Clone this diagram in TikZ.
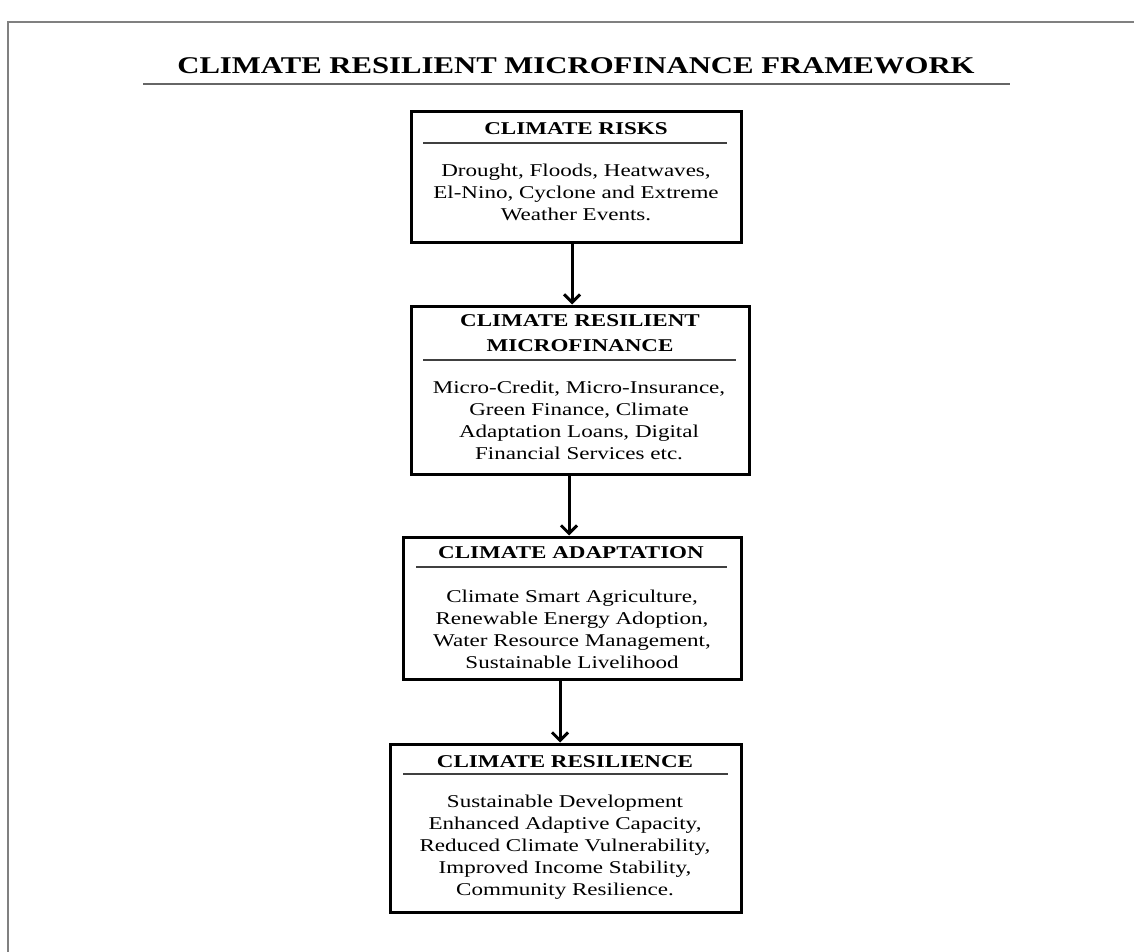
\documentclass[tikz,border=0pt]{standalone}
\usepackage{fontspec}
\setmainfont{Liberation Serif}[FakeStretch=1.28]
\usetikzlibrary{arrows.meta}
\tikzset{
  panel/.style={draw, line width=1.5pt, inner sep=0pt},
  head/.style={font=\fontsize{9}{12.5}\selectfont\bfseries, align=center, inner sep=0pt},
  body/.style={font=\fontsize{9}{11}\selectfont, align=center, inner sep=0pt},
  sep/.style={line width=0.7pt, black!75},
  flow/.style={line width=1.5pt, -{Straight Barb[length=4pt,width=8pt]}}
}
\begin{document}
\begin{tikzpicture}[x=0.5pt,y=-0.5pt]
\useasboundingbox (0,0) rectangle (1134,952);
\draw [gray, line width=1pt] (8,952) -- (8,22) -- (1134,22);
\node [font=\fontsize{12}{14}\selectfont\bfseries, inner sep=0pt, anchor=base] (title) at (576,74) {CLIMATE RESILIENT MICROFINANCE FRAMEWORK};
\draw [gray!80!black, line width=1pt] (143,84) -- (1010,84);

\node [panel, minimum width=165pt, minimum height=65.5pt] (risks) at (576,177.5) {};
\node [head, anchor=base] (risksh) at (576,135) {CLIMATE RISKS};
\draw [sep] (423,143) -- (727,143);
\node [body] (risksb) at (576,192) {Drought, Floods, Heatwaves,\\El-Nino, Cyclone and Extreme\\Weather Events.};

\node [panel, minimum width=169pt, minimum height=84pt] (finance) at (580,390) {};
\node [head] (financeh) at (580,333.5) {CLIMATE RESILIENT\\MICROFINANCE};
\draw [sep] (423,360) -- (736,360);
\node [body] (financeb) at (579,420.5) {Micro-Credit, Micro-Insurance,\\Green Finance, Climate\\Adaptation Loans, Digital\\Financial Services etc.};

\node [panel, minimum width=169pt, minimum height=71pt] (adapt) at (572,608) {};
\node [head, anchor=base] (adapth) at (571,558) {CLIMATE ADAPTATION};
\draw [sep] (416,567) -- (727,567);
\node [body] (adaptb) at (572,629) {Climate Smart Agriculture,\\Renewable Energy Adoption,\\Water Resource Management,\\Sustainable Livelihood};

\node [panel, minimum width=175.5pt, minimum height=84pt] (resil) at (565.5,828) {};
\node [head, anchor=base] (resilh) at (565,767) {CLIMATE RESILIENCE};
\draw [sep] (403,774) -- (728,774);
\node [body] (resilb) at (565,847.5) {Sustainable Development\\Enhanced Adaptive Capacity,\\Reduced Climate Vulnerability,\\Improved Income Stability,\\Community Resilience.};

\foreach \a/\b/\s in {risks/finance/-2pt, finance/adapt/-5.5pt, adapt/resil/-6pt}
  \draw [flow] ([xshift=\s]\a.south) -- ([xshift=\s]\a.south |- \b.north);
\end{tikzpicture}
\end{document}
